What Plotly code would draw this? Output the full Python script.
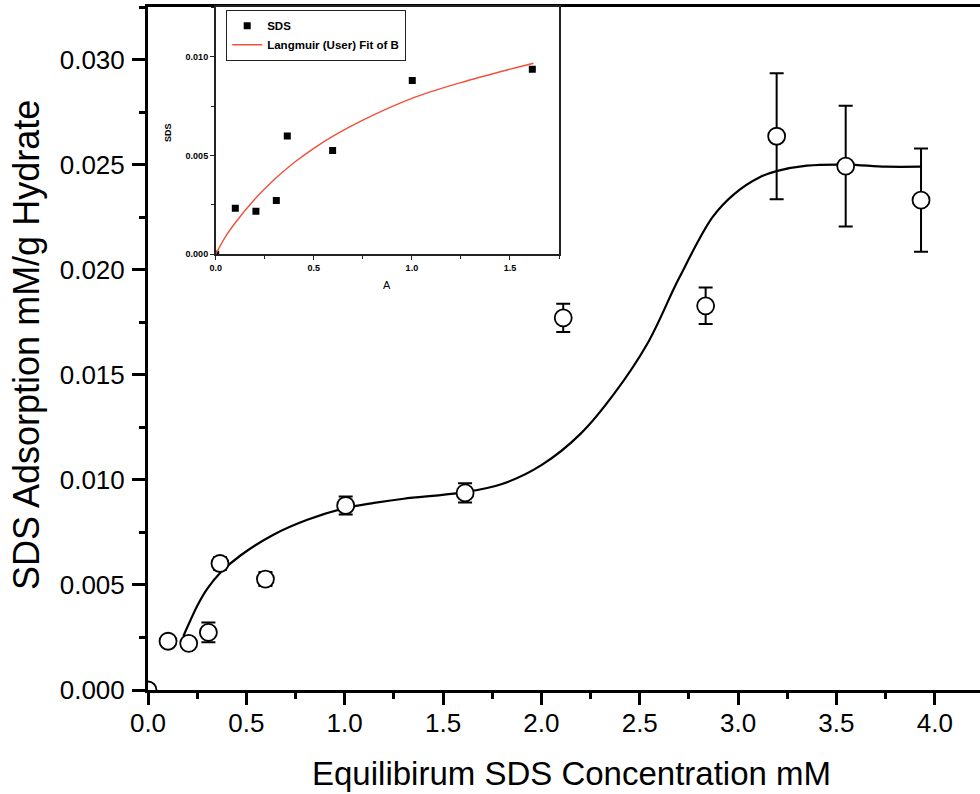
import plotly.graph_objects as go

# ---------------- data ----------------
conc = [0.0, 0.102, 0.207, 0.307, 0.366, 0.597, 1.005, 1.612, 2.111, 2.835, 3.196, 3.547, 3.93]
ads = [0.0, 0.00232, 0.00222, 0.00274, 0.00602, 0.00528, 0.00878, 0.00938, 0.01771, 0.01828, 0.02635, 0.02493, 0.02331]
ads_err = [0.0, 0.0002, 0.0002, 0.00047, 0.0003, 0.00033, 0.00043, 0.00046, 0.00067, 0.00087, 0.0030, 0.00287, 0.00246]

fit_x = [0.18, 0.21, 0.25, 0.30, 0.37, 0.47, 0.64, 0.81, 1.0, 1.15, 1.3, 1.6, 1.8,
         2.0, 2.2, 2.37, 2.54, 2.7, 2.87, 2.98, 3.11, 3.2, 3.35, 3.55, 3.75, 3.93]
fit_y = [0.00257, 0.0032, 0.0040, 0.0048, 0.0056, 0.0064, 0.0074, 0.0081, 0.00865, 0.0089, 0.0091,
         0.0094, 0.0098, 0.0107, 0.0122, 0.0141, 0.0165, 0.0196, 0.0225, 0.0236, 0.0244,
         0.0247, 0.02495, 0.0250, 0.0249, 0.0249]

# inset
inset_a = [0.0, 0.1, 0.205, 0.309, 0.365, 0.596, 1.002, 1.614]
inset_sds = [0.0, 0.00233, 0.00218, 0.00273, 0.0060, 0.00526, 0.0088, 0.00938]
lang_x = [0.0, 0.05, 0.1, 0.2, 0.3, 0.4, 0.5, 0.6, 0.75, 1.0, 1.25, 1.5, 1.62]
lang_y = [0.0, 0.0009, 0.0016, 0.0028, 0.0038, 0.00465, 0.00537, 0.0060, 0.0068, 0.0079, 0.0087, 0.00938, 0.00968]

main_yticks = [0.000, 0.005, 0.010, 0.015, 0.020, 0.025, 0.030]
main_xticks = [0.0, 0.5, 1.0, 1.5, 2.0, 2.5, 3.0, 3.5, 4.0]
inset_yticks = [0.000, 0.005, 0.010]
inset_xticks = [0.0, 0.5, 1.0, 1.5]

FONT = "Liberation Sans, Arial, sans-serif"

fig = go.Figure()

# main fit curve
fig.add_trace(go.Scatter(
    x=fit_x, y=fit_y, mode="lines", line=dict(color="black", width=2.2, shape="spline", smoothing=1.0),
    showlegend=False, hoverinfo="skip", xaxis="x", yaxis="y"))

# main data with error bars
fig.add_trace(go.Scatter(
    x=conc, y=ads, mode="markers",
    marker=dict(symbol="circle", size=17, color="white", line=dict(color="black", width=1.8)),
    error_y=dict(type="data", array=ads_err, visible=True, color="black", thickness=2, width=7),
    showlegend=False, xaxis="x", yaxis="y"))

# inset
fig.add_trace(go.Scatter(
    x=inset_a, y=inset_sds, mode="markers", name="SDS",
    marker=dict(symbol="square", size=7, color="black"),
    xaxis="x2", yaxis="y2"))
fig.add_trace(go.Scatter(
    x=lang_x, y=lang_y, mode="lines", name="Langmuir (User) Fit of B",
    line=dict(color="#f0503c", width=1.4, shape="spline", smoothing=1.0),
    xaxis="x2", yaxis="y2"))

W, H = 980, 794
L, R, T, B = 148, 0, 7, 104
pw = W - L - R
ph = H - T - B
xmax = pw / 196.7
ymax = 0.0325

def px_x(p):
    return (p - L) / pw

def px_y(p):
    return (H - B - p) / ph

fig.update_layout(
    width=W, height=H,
    margin=dict(l=L, r=R, t=T, b=B),
    paper_bgcolor="white", plot_bgcolor="white",
    font=dict(family=FONT, color="black"),
    xaxis=dict(
        domain=[0, 1], range=[0, xmax], tickvals=main_xticks, ticktext=[f"{v:.1f}" for v in main_xticks],
        showline=True, linecolor="black", linewidth=3, mirror=True,
        ticks="outside", ticklen=12, tickwidth=2.5, tickcolor="black",
        minor=dict(ticks="outside", ticklen=6, tickwidth=2.5, tickcolor="black", dtick=0.25, tick0=0),
        showgrid=False, zeroline=False, tickfont=dict(size=26, family=FONT), ticklabelstandoff=-4,
    ),
    yaxis=dict(
        domain=[0, 1], range=[0, ymax], tickvals=main_yticks, ticktext=[f"{v:.3f}" for v in main_yticks],
        showline=True, linecolor="black", linewidth=3,
        ticks="outside", ticklen=13, tickwidth=2.5, tickcolor="black",
        minor=dict(ticks="outside", ticklen=6, tickwidth=2.5, tickcolor="black", dtick=0.0025, tick0=0),
        showgrid=False, zeroline=False, tickfont=dict(size=26, family=FONT), ticklabelstandoff=2,
    ),
    xaxis2=dict(
        domain=[px_x(215.7), px_x(559)], anchor="y2", range=[0, 1.75],
        tickvals=inset_xticks, ticktext=[f"{v:.1f}" for v in inset_xticks],
        showline=True, linecolor="#222", linewidth=1.5, mirror=True,
        ticks="outside", ticklen=4, tickwidth=1.2, tickcolor="#222",
        minor=dict(ticks="outside", ticklen=3, tickwidth=1.2, tickcolor="#222", dtick=0.25, tick0=0),
        showgrid=False, zeroline=False, tickfont=dict(size=9, family=FONT, weight="bold"),
    ),
    yaxis2=dict(
        domain=[px_y(254.3), 1], anchor="x2", range=[0, 0.01253],
        tickvals=inset_yticks, ticktext=[f"{v:.3f}" for v in inset_yticks],
        showline=True, linecolor="#222", linewidth=1.5, mirror=True,
        ticks="outside", ticklen=4, tickwidth=1.2, tickcolor="#222",
        minor=dict(ticks="outside", ticklen=3, tickwidth=1.2, tickcolor="#222", dtick=0.0025, tick0=0),
        showgrid=False, zeroline=False, tickfont=dict(size=9, family=FONT, weight="bold"),
    ),
    legend=dict(
        x=px_x(226), y=px_y(10), xanchor="left", yanchor="top",
        bgcolor="white", bordercolor="#222", borderwidth=1.2,
        font=dict(size=11.5, family=FONT, weight="bold"),
        tracegroupgap=0, itemwidth=30,
    ),
    annotations=[
        dict(text="Equilibirum SDS Concentration mM", x=px_x(571), y=px_y(773), xref="paper", yref="paper",
             xanchor="center", yanchor="middle", showarrow=False, font=dict(size=33, family=FONT)),
        dict(text="SDS Adsorption mM/g Hydrate", x=px_x(27), y=px_y(345), xref="paper", yref="paper",
             xanchor="center", yanchor="middle", textangle=-90, showarrow=False, font=dict(size=36, family=FONT)),
        dict(text="A", x=px_x(387), y=px_y(285), xref="paper", yref="paper",
             xanchor="center", yanchor="middle", showarrow=False, font=dict(size=11, family=FONT)),
        dict(text="SDS", x=px_x(168), y=px_y(133), xref="paper", yref="paper",
             xanchor="center", yanchor="middle", textangle=-90, showarrow=False,
             font=dict(size=9, family=FONT, weight="bold")),
    ],
)

fig.write_html("out.html")
